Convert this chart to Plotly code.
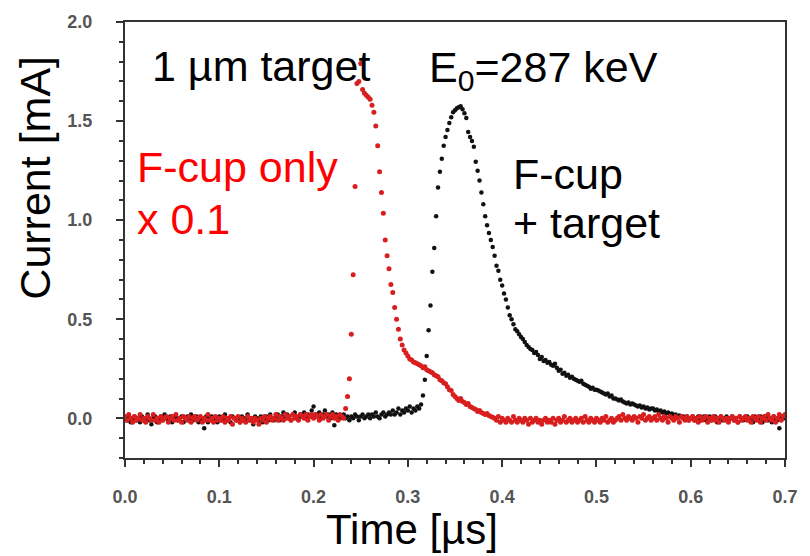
import plotly.graph_objects as go

# ---------------- data ----------------
t_start_us = 0.0
t_step_us = 0.002
n_samples = 351
time_us = [round(t_start_us + i * t_step_us, 3) for i in range(n_samples)]

# F-cup + target (black), mA
fcup_target = [
    0.00, -0.01, 0.01, -0.02, 0.00, 0.01, -0.01, 0.00, -0.02, 0.01,
    -0.01, 0.00, 0.02, -0.01, -0.03, 0.00, 0.01, -0.02, 0.00, 0.01,
    -0.01, 0.02, 0.00, -0.01, 0.01, -0.02, 0.00, 0.01, -0.01, 0.00,
    0.01, -0.02, 0.00, 0.01, -0.01, 0.02, -0.01, 0.00, 0.01, -0.02,
    0.00, -0.01, -0.05, 0.01, -0.02, 0.00, 0.01, -0.01, 0.00, -0.02,
    0.01, -0.01, 0.00, 0.02, -0.01, 0.00, -0.02, 0.01, 0.00, -0.01,
    0.00, -0.02, 0.01, 0.00, -0.01, 0.02, -0.01, 0.00, -0.03, 0.01,
    0.00, -0.01, 0.01, -0.02, 0.00, 0.01, -0.01, 0.02, 0.00, -0.01,
    0.01, 0.02, -0.01, 0.01, 0.03, 0.00, 0.02, 0.01, -0.01, 0.02,
    0.03, 0.01, 0.00, 0.02, 0.01, 0.03, 0.00, 0.02, 0.01, 0.04,
    0.06, 0.02, 0.01, 0.03, 0.00, 0.02, 0.04, 0.01, 0.02, 0.00,
    0.03, -0.035, 0.02, 0.01, 0.00, 0.01, 0.02, 0.00, 0.01, -0.01,
    0.01, 0.00, 0.02, 0.01, -0.01, 0.01, 0.02, 0.00, 0.01, 0.02,
    0.00, 0.02, 0.01, 0.03, 0.01, 0.00, 0.02, 0.03, 0.01, 0.02,
    0.03, 0.02, 0.04, 0.02, 0.03, 0.05, 0.02, 0.04, 0.03, 0.05,
    0.04, 0.06, 0.03, 0.05, 0.04, 0.06, 0.05, 0.07, 0.115, 0.195,
    0.315, 0.445, 0.57, 0.74, 0.86, 1.02, 1.165, 1.245, 1.31, 1.375,
    1.42, 1.455, 1.49, 1.52, 1.545, 1.555, 1.565, 1.57, 1.575, 1.56,
    1.54, 1.515, 1.445, 1.42, 1.40, 1.37, 1.295, 1.25, 1.20, 1.14,
    1.08, 1.02, 0.975, 0.935, 0.90, 0.865, 0.82, 0.77, 0.745, 0.70,
    0.67, 0.63, 0.60, 0.56, 0.52, 0.50, 0.475, 0.45, 0.44, 0.425,
    0.41, 0.40, 0.385, 0.37, 0.36, 0.35, 0.345, 0.33, 0.335, 0.32,
    0.30, 0.31, 0.29, 0.295, 0.28, 0.285, 0.27, 0.265, 0.275, 0.255,
    0.24, 0.245, 0.225, 0.23, 0.215, 0.22, 0.205, 0.21, 0.20, 0.195,
    0.19, 0.185, 0.19, 0.175, 0.17, 0.165, 0.16, 0.15, 0.155, 0.145,
    0.145, 0.14, 0.135, 0.13, 0.125, 0.12, 0.125, 0.11, 0.115, 0.10,
    0.10, 0.095, 0.09, 0.095, 0.085, 0.08, 0.075, 0.08, 0.07, 0.075,
    0.07, 0.065, 0.06, 0.065, 0.055, 0.06, 0.05, 0.055, 0.045, 0.05,
    0.05, 0.04, 0.045, 0.035, 0.04, 0.03, 0.035, 0.025, 0.03, 0.02,
    0.025, 0.015, 0.02, 0.01, 0.015, 0.005, 0.01, 0.00, 0.01, -0.01,
    0.00, 0.01, -0.01, 0.00, 0.01, -0.01, 0.00, 0.01, -0.01, 0.00,
    0.01, -0.01, 0.00, 0.01, -0.02, 0.00, 0.01, -0.01, 0.00, 0.01,
    -0.01, 0.00, 0.01, -0.01, 0.00, -0.02, 0.01, 0.00, -0.01, 0.00,
    0.01, -0.01, 0.00, -0.02, 0.01, 0.00, -0.01, 0.01, -0.02, 0.00,
    0.01, -0.01, 0.00, -0.02, 0.01, 0.00, -0.01, -0.05, 0.00, 0.01,
    0.00,
]

# F-cup only, scaled x 0.1 (red), mA
fcup_only = [
    0.01, -0.01, 0.02, 0.00, -0.02, 0.01, -0.01, 0.00, 0.02, -0.01,
    0.00, -0.02, 0.01, 0.00, -0.01, 0.02, -0.01, 0.00, -0.02, 0.01,
    -0.01, 0.00, 0.01, -0.02, 0.00, 0.01, -0.01, 0.02, -0.01, 0.00,
    -0.02, 0.01, 0.00, -0.01, 0.01, -0.02, 0.00, 0.01, -0.01, 0.00,
    0.01, -0.02, 0.00, -0.01, 0.02, -0.01, 0.00, -0.02, 0.01, -0.01,
    0.00, -0.01, 0.01, -0.02, 0.00, -0.01, 0.01, -0.03, 0.00, -0.01,
    0.01, -0.02, 0.00, -0.01, -0.02, 0.01, -0.01, 0.00, -0.02, 0.00,
    -0.01, -0.03, 0.00, -0.01, 0.01, -0.02, 0.00, 0.01, -0.01, 0.00,
    0.02, -0.01, 0.01, 0.00, -0.01, 0.02, 0.00, 0.01, -0.01, 0.02,
    0.00, 0.01, -0.01, 0.02, 0.01, 0.00, 0.02, -0.01, 0.01, 0.02,
    0.00, 0.02, 0.01, -0.01, 0.02, 0.00, 0.01, 0.02, -0.01, 0.01,
    0.02, 0.00, 0.01, -0.01, 0.02, 0.01, 0.00, 0.05, 0.11, 0.20,
    0.425, 0.725, 1.17, 1.69, 1.70, 1.79, 1.66, 1.64, 1.63, 1.62,
    1.61, 1.58, 1.545, 1.475, 1.375, 1.245, 1.14, 1.035, 0.90, 0.82,
    0.755, 0.675, 0.635, 0.56, 0.50, 0.45, 0.40, 0.37, 0.345, 0.33,
    0.315, 0.30, 0.295, 0.285, 0.28, 0.275, 0.27, 0.265, 0.255, 0.26,
    0.245, 0.24, 0.235, 0.23, 0.22, 0.215, 0.21, 0.195, 0.19, 0.18,
    0.175, 0.16, 0.145, 0.14, 0.12, 0.11, 0.10, 0.09, 0.10, 0.085,
    0.08, 0.07, 0.075, 0.06, 0.055, 0.05, 0.045, 0.035, 0.04, 0.03,
    0.025, 0.02, 0.025, 0.015, 0.01, 0.005, 0.00, -0.01, 0.01, -0.02,
    0.00, -0.01, -0.02, 0.00, -0.01, -0.02, 0.01, -0.01, -0.02, 0.00,
    -0.01, -0.02, 0.00, -0.01, -0.03, 0.00, -0.02, -0.01, 0.00, -0.02,
    -0.01, -0.03, -0.01, 0.00, -0.02, -0.01, -0.02, 0.00, -0.03, -0.01,
    0.00, -0.02, -0.01, 0.01, -0.02, -0.01, 0.00, -0.02, -0.01, 0.00,
    -0.02, -0.01, 0.00, -0.02, 0.01, -0.01, -0.02, 0.00, -0.01, -0.02,
    0.00, -0.01, -0.02, 0.00, -0.01, 0.01, -0.02, -0.01, 0.00, -0.02,
    -0.01, 0.00, 0.01, -0.01, 0.02, 0.00, -0.01, 0.01, 0.00, -0.01,
    0.01, 0.00, -0.02, 0.01, 0.00, 0.02, -0.01, 0.00, 0.01, -0.01,
    0.00, 0.01, -0.01, 0.02, 0.00, -0.01, 0.01, 0.00, -0.02, 0.01,
    0.00, -0.01, 0.01, 0.00, -0.02, 0.01, 0.00, -0.01, 0.01, -0.01,
    0.00, 0.01, -0.01, 0.00, -0.02, 0.01, -0.01, 0.00, 0.01, -0.02,
    0.00, -0.01, 0.01, -0.01, 0.00, -0.02, 0.01, 0.00, -0.01, 0.00,
    -0.02, 0.00, 0.01, -0.01, 0.00, -0.02, 0.01, -0.01, 0.00, 0.01,
    -0.01, 0.00, -0.02, 0.01, 0.00, -0.01, 0.01, -0.02, 0.00, 0.01,
    -0.01, 0.02, 0.00, -0.01, 0.01, -0.02, 0.00, 0.02, -0.01, 0.01,
    0.02,
]

x_ticks = [0.0, 0.1, 0.2, 0.3, 0.4, 0.5, 0.6, 0.7]
x_tick_labels = ["0.0", "0.1", "0.2", "0.3", "0.4", "0.5", "0.6", "0.7"]
y_ticks = [0.0, 0.5, 1.0, 1.5, 2.0]
y_tick_labels = ["0.0", "0.5", "1.0", "1.5", "2.0"]

# ---------------- layout geometry ----------------
W, H = 810, 556
L, R, T, B = 125, 17, 18, 98
PW, PH = W - L - R, H - T - B


def px(xp, yp):
    return (xp - L) / PW, (H - B - yp) / PH


fig = go.Figure()
fig.add_trace(go.Scatter(
    x=time_us, y=fcup_target, mode="markers",
    marker=dict(color="#111111", size=4.5, line=dict(width=0)),
    name="F-cup + target", showlegend=False,
))
fig.add_trace(go.Scatter(
    x=time_us, y=fcup_only, mode="markers",
    marker=dict(color="#d81e1e", size=5, line=dict(width=0)),
    name="F-cup only x 0.1", showlegend=False,
))

FS = 43
FONT = "Arial, Liberation Sans, sans-serif"
ann = []


def add_text(text, xp, yp, color="#000000", xanchor="left", textangle=0, size=FS):
    x, y = px(xp, yp)
    ann.append(dict(text=text, x=x, y=y, xref="paper", yref="paper",
                    xanchor=xanchor, yanchor="middle", showarrow=False,
                    textangle=textangle,
                    font=dict(family=FONT, size=size, color=color)))


add_text("1 µm target", 150, 62)
add_text("E<sub>0</sub>=287 keV", 431, 66)
add_text("F-cup only", 135, 164, color="#ff0000")
add_text("x 0.1", 135, 217, color="#ff0000")
add_text("F-cup", 516, 171)
add_text("+ target", 516, 221)
add_text("Current [mA]", 33, 175, xanchor="center", textangle=-90)
add_text("Time [µs]", 415, 530, xanchor="center", size=42)

axis_common = dict(
    showline=True, linewidth=2, linecolor="#333333", mirror=True,
    ticks="outside", ticklen=7, tickwidth=2, tickcolor="#333333",
    showgrid=False, zeroline=False,
    tickfont=dict(family=FONT, size=18, color="#555555", weight="bold"),
)

fig.update_layout(
    width=W, height=H,
    margin=dict(l=L, r=R, t=T, b=B),
    paper_bgcolor="white", plot_bgcolor="white",
    xaxis=dict(range=[0, 0.7], tickvals=x_ticks, ticktext=x_tick_labels,
               ticklabelstandoff=14,
               minor=dict(dtick=0.02, ticks="outside", ticklen=4, tickwidth=1.5,
                          tickcolor="#333333", showgrid=False),
               **axis_common),
    yaxis=dict(range=[-0.2, 2.0], tickvals=y_ticks, ticktext=y_tick_labels,
               ticklabelstandoff=20,
               minor=dict(dtick=0.1, ticks="outside", ticklen=4, tickwidth=1.5,
                          tickcolor="#333333", showgrid=False),
               **axis_common),
    annotations=ann,
)

fig.write_html("out.html")
